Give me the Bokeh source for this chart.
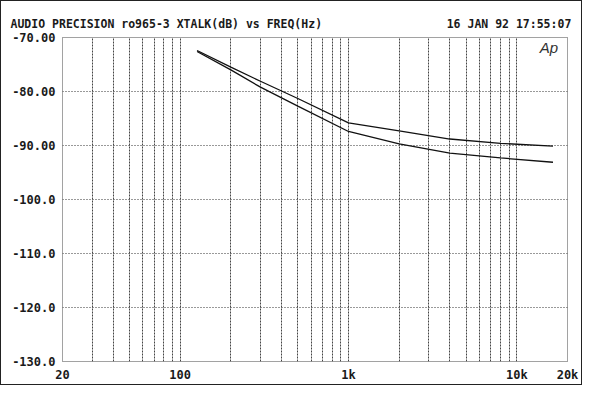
from bokeh.plotting import figure
from bokeh.models import FixedTicker, CustomJSTickFormatter, Label, Range1d
from bokeh.embed import file_html
from bokeh.resources import INLINE

# ---- data ----
freq_hz = [126, 200, 300, 500, 1000, 2000, 4000, 8000, 16400]
xtalk_a = [-72.4, -75.5, -78.1, -81.3, -85.8, -87.3, -88.8, -89.6, -90.1]
xtalk_b = [-72.6, -76.0, -79.2, -82.7, -87.4, -89.7, -91.4, -92.3, -93.1]

x_grid_ticks = [20, 30, 40, 50, 60, 70, 80, 90,
                100, 200, 300, 400, 500, 600, 700, 800, 900,
                1000, 2000, 3000, 4000, 5000, 6000, 7000, 8000, 9000,
                10000, 20000]
x_label_ticks = [20, 100, 1000, 10000, 20000]
y_ticks = [-130, -120, -110, -100, -90, -80, -70]
y_labels = ["-130.0", "-120.0", "-110.0", "-100.0", "-90.00", "-80.00", "-70.00"]

title_text = "AUDIO PRECISION ro965-3 XTALK(dB) vs FREQ(Hz)"
date_text = "16 JAN 92 17:55:07"

FONT = "DejaVu Sans Mono"
INK = "#1a1a1a"

p = figure(width=580, height=374, x_axis_type="log",
           x_range=Range1d(20, 20000), y_range=Range1d(-130, -70),
           output_backend="svg", toolbar_location=None,
           min_border_left=61, min_border_right=14, min_border_top=36, min_border_bottom=14)
p.frame_width = 505
p.frame_height = 324
p.styles = {"border": "1.5px solid #222222"}
p.outline_line_color = "#444444"
p.outline_line_dash = "1 1"
p.outline_line_width = 1
p.background_fill_color = "white"
p.border_fill_color = "white"

# header line (title left, date right, monospaced)
p.title.text = title_text + "\u00a0" * 18 + date_text
p.title.align = "left"
p.title.offset = -52
p.title.standoff = 14
p.title.text_font = FONT
p.title.text_font_style = "bold"
p.title.text_font_size = "11.5px"
p.title.text_color = INK

# axes
p.xaxis.ticker = FixedTicker(ticks=x_label_ticks)
p.xaxis.formatter = CustomJSTickFormatter(code="return tick >= 1000 ? (tick/1000) + 'k' : String(tick);")
p.yaxis.ticker = FixedTicker(ticks=y_ticks)
p.yaxis.major_label_overrides = {t: l for t, l in zip(y_ticks, y_labels)}
for ax in (p.xaxis[0], p.yaxis[0]):
    ax.axis_line_color = None
    ax.major_tick_line_color = None
    ax.minor_tick_line_color = None
    ax.major_tick_out = 0
    ax.major_tick_in = 0
    ax.minor_tick_out = 0
    ax.minor_tick_in = 0
    ax.axis_label_standoff = 0
    ax.major_label_text_font = FONT
    ax.major_label_text_font_style = "bold"
    ax.major_label_text_font_size = "12px"
    ax.major_label_text_color = INK
p.yaxis.major_label_standoff = 7
p.xaxis.major_label_standoff = 6

# grids
p.xgrid.ticker = FixedTicker(ticks=x_grid_ticks)
p.xgrid.grid_line_color = "#444444"
p.xgrid.grid_line_dash = "2 1"
p.xgrid.grid_line_width = 1
p.ygrid.ticker = FixedTicker(ticks=y_ticks)
p.ygrid.grid_line_color = "#333333"
p.ygrid.grid_line_dash = "1 2"
p.ygrid.grid_line_width = 1

# curves
p.line(freq_hz, xtalk_a, line_color="#111111", line_width=1.3)
p.line(freq_hz, xtalk_b, line_color="#111111", line_width=1.3)

# Ap logo
p.add_layout(Label(x=15500, y=-71.9, text="Ap", text_font="Liberation Sans",
                   text_font_style="italic", text_font_size="15px", text_color="#333333",
                   text_baseline="middle", text_align="center"))

open("out.html", "w").write(file_html(p, INLINE))
